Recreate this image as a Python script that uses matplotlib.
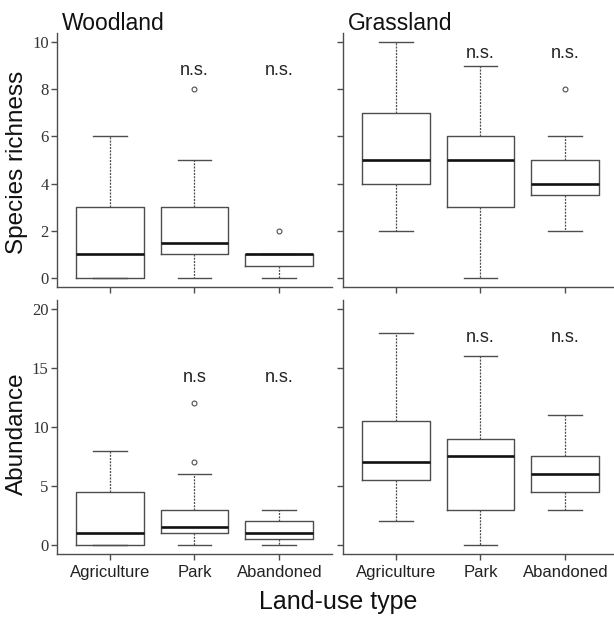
import matplotlib
matplotlib.use("Agg")
import matplotlib.pyplot as plt

# land-use categories (x axis)
categories = ["Agriculture", "Park", "Abandoned"]

# box summaries: whisker low, Q1, median, Q3, whisker high, outliers
wood_rich_lo = [0, 0, 0]
wood_rich_q1 = [0, 1, 0.5]
wood_rich_med = [1, 1.5, 1]
wood_rich_q3 = [3, 3, 1]
wood_rich_hi = [6, 5, 1]
wood_rich_out = [[], [8], [2]]

grass_rich_lo = [2, 0, 2]
grass_rich_q1 = [4, 3, 3.5]
grass_rich_med = [5, 5, 4]
grass_rich_q3 = [7, 6, 5]
grass_rich_hi = [10, 9, 6]
grass_rich_out = [[], [], [8]]

wood_abund_lo = [0, 0, 0]
wood_abund_q1 = [0, 1, 0.5]
wood_abund_med = [1, 1.5, 1]
wood_abund_q3 = [4.5, 3, 2]
wood_abund_hi = [8, 6, 3]
wood_abund_out = [[], [7, 12], []]

grass_abund_lo = [2, 0, 3]
grass_abund_q1 = [5.5, 3, 4.5]
grass_abund_med = [7, 7.5, 6]
grass_abund_q3 = [10.5, 9, 7.5]
grass_abund_hi = [18, 16, 11]
grass_abund_out = [[], [], []]

# significance annotations (text, y position)
ns_wood_rich = [("", 0), ("n.s.", 8.8), ("n.s.", 8.8)]
ns_grass_rich = [("", 0), ("n.s.", 9.5), ("n.s.", 9.5)]
ns_wood_abund = [("", 0), ("n.s", 14.2), ("n.s.", 14.2)]
ns_grass_abund = [("", 0), ("n.s.", 17.6), ("n.s.", 17.6)]

SANS = "Liberation Sans"
SERIF = "Liberation Serif"
GREY = "#4d4d4d"


def make_stats(lo, q1, med, q3, hi, out):
    stats = []
    for i in range(len(categories)):
        stats.append(dict(whislo=lo[i], q1=q1[i], med=med[i], q3=q3[i],
                          whishi=hi[i], fliers=out[i], label=categories[i]))
    return stats


def draw_panel(ax, stats, ns, ylim, yticks, show_ylabels, show_xlabels):
    ax.bxp(stats, positions=[1, 2, 3], widths=0.8, capwidths=0.4,
           boxprops=dict(color=GREY, linewidth=1.0),
           medianprops=dict(color="#111111", linewidth=1.9),
           whiskerprops=dict(color=GREY, linewidth=0.9, linestyle=(0, (1.6, 1.0))),
           capprops=dict(color=GREY, linewidth=1.0),
           flierprops=dict(marker="o", markersize=3.5, markerfacecolor="white",
                           markeredgecolor=GREY, markeredgewidth=0.8))
    ax.set_xlim(0.38, 3.62)
    ax.set_ylim(*ylim)
    ax.set_yticks(yticks)
    ax.set_xticks([1, 2, 3])
    for side in ["top", "right"]:
        ax.spines[side].set_visible(False)
    for side in ["left", "bottom"]:
        ax.spines[side].set_color(GREY)
        ax.spines[side].set_linewidth(1.0)
    ax.tick_params(axis="both", direction="out", length=4, width=1.0, color=GREY)
    ax.tick_params(axis="y", pad=2)
    ax.tick_params(axis="x", pad=4)
    if show_ylabels:
        ax.set_yticklabels([str(t) for t in yticks], fontfamily=SERIF,
                           fontsize=12, color="#333333")
    else:
        ax.set_yticklabels([])
    if show_xlabels:
        ax.set_xticklabels(categories, fontfamily=SANS, fontsize=12,
                           color="#222222")
    else:
        ax.set_xticklabels([])
    for i, (txt, yy) in enumerate(ns):
        if txt:
            ax.text(i + 1, yy, txt, ha="center", va="center",
                    fontfamily=SANS, fontsize=13, color="#222222")


fig = plt.figure(figsize=(6.14, 6.19), dpi=100)

ax_tl = fig.add_axes([0.0928, 0.5357, 0.4479, 0.4116])
ax_tr = fig.add_axes([0.5586, 0.5357, 0.4479, 0.4116])
ax_bl = fig.add_axes([0.0928, 0.1044, 0.4479, 0.4116])
ax_br = fig.add_axes([0.5586, 0.1044, 0.4479, 0.4116])

draw_panel(ax_tl, make_stats(wood_rich_lo, wood_rich_q1, wood_rich_med,
                             wood_rich_q3, wood_rich_hi, wood_rich_out),
           ns_wood_rich, (-0.4, 10.4), [0, 2, 4, 6, 8, 10], True, False)
draw_panel(ax_tr, make_stats(grass_rich_lo, grass_rich_q1, grass_rich_med,
                             grass_rich_q3, grass_rich_hi, grass_rich_out),
           ns_grass_rich, (-0.4, 10.4), [0, 2, 4, 6, 8, 10], False, False)
draw_panel(ax_bl, make_stats(wood_abund_lo, wood_abund_q1, wood_abund_med,
                             wood_abund_q3, wood_abund_hi, wood_abund_out),
           ns_wood_abund, (-0.8, 20.8), [0, 5, 10, 15, 20], True, True)
draw_panel(ax_br, make_stats(grass_abund_lo, grass_abund_q1, grass_abund_med,
                             grass_abund_q3, grass_abund_hi, grass_abund_out),
           ns_grass_abund, (-0.8, 20.8), [0, 5, 10, 15, 20], False, True)

# panel titles
fig.text(62 / 614, 1 - 30 / 619, "Woodland", fontfamily=SANS, fontsize=16.5,
         ha="left", va="baseline", color="#111111")
fig.text(348 / 614, 1 - 30 / 619, "Grassland", fontfamily=SANS, fontsize=16.5,
         ha="left", va="baseline", color="#111111")

# axis labels
fig.text(17 / 614, 1 - 162 / 619, "Species richness", fontfamily=SANS,
         fontsize=17.5, rotation=90, ha="center", va="center", color="#111111")
fig.text(17 / 614, 1 - 434 / 619, "Abundance", fontfamily=SANS,
         fontsize=17.5, rotation=90, ha="center", va="center", color="#111111")
fig.text(338 / 614, 1 - 602 / 619, "Land-use type", fontfamily=SANS,
         fontsize=18, ha="center", va="center", color="#111111")

fig.savefig("out.png", dpi=100)
